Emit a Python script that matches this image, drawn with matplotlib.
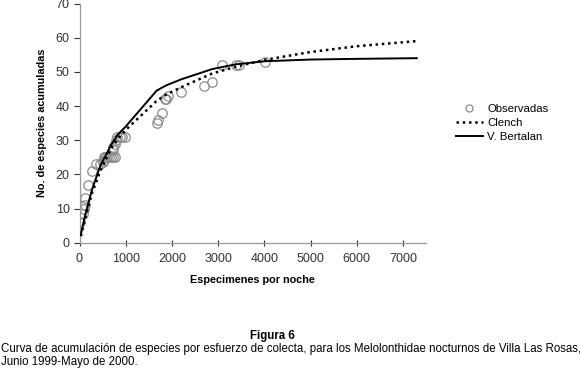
import matplotlib
matplotlib.use("Agg")
import matplotlib.pyplot as plt

plt.rcParams['font.family'] = ['Liberation Sans', 'DejaVu Sans']

# Observed data
obs_x = [20, 70, 100, 120, 125, 190, 270, 350, 450, 500, 515, 530, 560, 600, 640,
         680, 730, 770, 720, 730, 760, 790, 820, 875, 930, 980,
         1670, 1700, 1790, 1845, 1870, 1925, 2200, 2700, 2870, 3090, 3380, 3450, 4010]
obs_y = [6, 8.5, 10, 11, 13, 17, 21, 23, 23, 24, 23.5, 25, 25, 25, 25,
         25, 25, 25, 27, 28, 29, 30, 31, 31, 31, 31,
         35, 36, 38, 42, 42, 43, 44, 46, 47, 52, 52, 52, 53]

# Fitted curves
fit_x = [30, 130, 270, 450, 680, 820, 1000, 1670, 1870, 2200, 2870, 3380, 4010, 5000, 6000, 7300]
clench = [1.9, 7.5, 14.5, 21.0, 27.5, 30.3, 33, 41.5, 43.3, 45.5, 49.5, 51.5, 53.5, 55.8, 57.5, 59]
bertalan = [2.5, 8.5, 15.5, 22.5, 28.5, 31.5, 34, 44.5, 46, 47.8, 50.8, 52.2, 53.1, 53.6, 53.8, 54]

x_ticks = [0, 1000, 2000, 3000, 4000, 5000, 6000, 7000]
y_ticks = [0, 10, 20, 30, 40, 50, 60, 70]

fig = plt.figure(figsize=(5.8, 3.7), dpi=100)
ax = fig.add_axes([79.5/580, 1-242.7/370, (426-79.5)/580, (242.7-3.5)/370])

ax.plot(obs_x, obs_y, linestyle='none', marker='o', markersize=6.8,
        markerfacecolor='none', markeredgecolor='#8c8c8c', markeredgewidth=0.9,
        label='Observadas', zorder=2)
ax.plot(fit_x, clench, color='black', linestyle=(0, (1, 1.5)), linewidth=1.8,
        label='Clench', zorder=3)
ax.plot(fit_x, bertalan, color='black', linestyle='-', linewidth=1.4,
        label='V. Bertalan', zorder=3)

ax.set_xlim(0, 7500)
ax.set_ylim(0, 70)
ax.set_xticks(x_ticks)
ax.set_yticks(y_ticks)
ax.tick_params(axis='both', labelsize=9, colors='#333333', length=3, width=0.8)
ax.tick_params(axis='x', direction='inout', length=5, pad=5)
ax.tick_params(axis='y', direction='out', length=4, pad=3)
for s in ['top', 'right']:
    ax.spines[s].set_visible(False)
for s in ['left', 'bottom']:
    ax.spines[s].set_color('#999999')
    ax.spines[s].set_linewidth(0.9)

ax.set_xlabel('Especimenes por noche', fontsize=7.8, fontweight='bold', labelpad=7)
ax.set_ylabel('No. de especies acumuladas', fontsize=7.8, fontweight='bold', labelpad=6)

leg = ax.legend(loc='upper left', bbox_to_anchor=(450/580, 1-98/370),
                bbox_transform=fig.transFigure, frameon=False, fontsize=8.2,
                handlelength=2.4, handletextpad=0.35, labelspacing=0.35, borderpad=0,
                markerscale=0.75)

fig.text(272/580, 1-336/370, 'Figura 6', ha='center', va='center',
         fontsize=8.3, fontweight='bold')
fig.text(0.002, 1-349/370,
         'Curva de acumulación de especies por esfuerzo de colecta, para los Melolonthidae nocturnos de Villa Las Rosas,',
         ha='left', va='center', fontsize=8.3)
fig.text(0.002, 1-362/370, 'Junio 1999-Mayo de 2000.', ha='left', va='center', fontsize=8.3)

fig.savefig('out.png', dpi=100)
